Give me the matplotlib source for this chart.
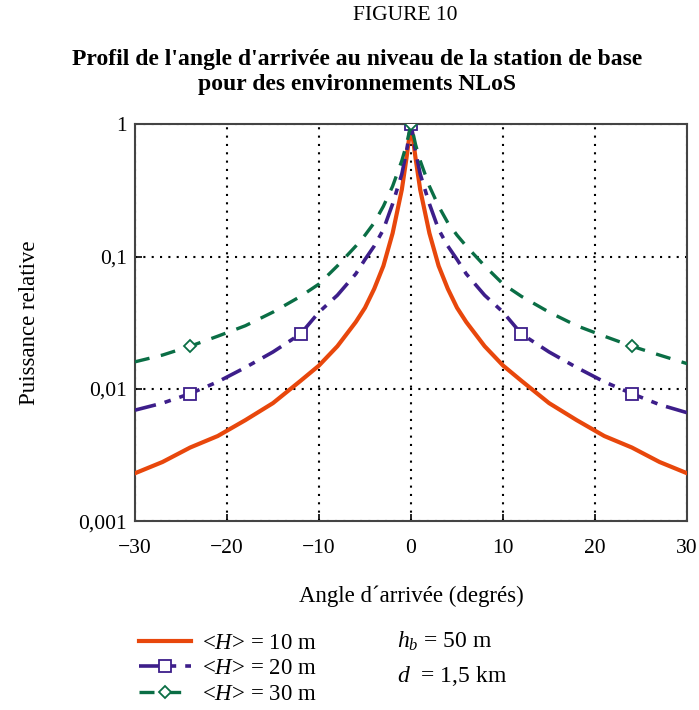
import matplotlib
matplotlib.use('Agg')
import matplotlib.pyplot as plt
from matplotlib.ticker import FixedLocator, NullLocator

plt.rcParams['font.family'] = 'Liberation Serif'
plt.rcParams['mathtext.fontset'] = 'custom'
plt.rcParams['mathtext.rm'] = 'Liberation Serif'
plt.rcParams['mathtext.it'] = 'Liberation Serif:italic'

# angle d'arrivée (degrés)
angles = [-30, -27, -24, -21, -18, -15, -12, -10, -8, -6, -5, -4, -3, -2, -1, -0.5, 0,
          0.5, 1, 2, 3, 4, 5, 6, 8, 10, 12, 15, 18, 21, 24, 27, 30]

# puissance relative
p_h10 = [0.0023, 0.0028, 0.0036, 0.0044, 0.0058, 0.0078, 0.0115, 0.0150, 0.021, 0.032,
         0.041, 0.057, 0.085, 0.15, 0.32, 0.55, 1.0,
         0.55, 0.32, 0.15, 0.085, 0.057, 0.041, 0.032, 0.021, 0.0150, 0.0115, 0.0078,
         0.0058, 0.0044, 0.0036, 0.0028, 0.0023]
p_h20 = [0.0069, 0.0078, 0.0092, 0.0113, 0.0145, 0.019, 0.026, 0.038, 0.051, 0.074,
         0.095, 0.12, 0.16, 0.25, 0.42, 0.62, 1.0,
         0.62, 0.42, 0.25, 0.16, 0.12, 0.095, 0.074, 0.051, 0.038, 0.026, 0.019,
         0.0145, 0.0113, 0.0092, 0.0076, 0.0066]
p_h30 = [0.016, 0.018, 0.021, 0.025, 0.030, 0.038, 0.050, 0.062, 0.085, 0.12,
         0.145, 0.18, 0.24, 0.34, 0.53, 0.70, 1.0,
         0.70, 0.53, 0.34, 0.24, 0.18, 0.145, 0.12, 0.085, 0.062, 0.050, 0.038,
         0.030, 0.025, 0.021, 0.018, 0.0155]

x_ticks = [-30, -20, -10, 0, 10, 20, 30]
x_labels = ['\u221230', '\u221220', '\u221210', '0', '10', '20', '30']
y_ticks = [0.001, 0.01, 0.1, 1]
y_labels = ['0,001', '0,01', '0,1', '1']

c_orange = '#E8470C'
c_purple = '#3D1E8A'
c_green = '#0A6E45'

fig = plt.figure(figsize=(6.99, 7.10), dpi=100)
ax = fig.add_axes([0.193, 0.266, 0.790, 0.559])

ax.plot(angles, p_h10, color=c_orange, lw=3, label=r'<$H$> = 10 m', zorder=3)
ax.plot(angles, p_h20, color=c_purple, lw=2.6, ls=(0, (6, 2.5, 1.8, 2.5)),
        marker='s', markersize=8, markerfacecolor='white', markeredgewidth=1.3,
        markevery=[2, 6, 16, 26, 30], label=r'<$H$> = 20 m', zorder=4)
ax.plot(angles, p_h30, color=c_green, lw=2.4, ls=(0, (4.5, 3.5)),
        marker='D', markersize=6, markerfacecolor='white', markeredgewidth=1.3,
        markevery=[2, 16, 30], label=r'<$H$> = 30 m', zorder=4)

ax.set_yscale('log')
ax.set_xlim(-30, 30)
ax.set_ylim(0.001, 1)
ax.xaxis.set_major_locator(FixedLocator(x_ticks))
ax.set_xticklabels(x_labels)
ax.yaxis.set_major_locator(FixedLocator(y_ticks))
ax.yaxis.set_minor_locator(NullLocator())
ax.set_yticklabels(y_labels)
ax.tick_params(direction='in', length=5, width=1.2, labelsize=15.5)
ax.tick_params(axis='x', pad=13)
ax.tick_params(axis='y', pad=6)
ax.grid(True, ls=(0, (1, 3)), color='black', lw=1.5)
for s in ax.spines.values():
    s.set_color('#444444')
    s.set_linewidth(1.5)

ax.set_xlabel('Angle d\u00b4arriv\u00e9e (degr\u00e9s)', fontsize=16.5, labelpad=20)
ax.set_ylabel('Puissance relative', fontsize=16.5, labelpad=27)

fig.text(0.58, 0.978, 'FIGURE 10', ha='center', va='center', fontsize=15.5)
fig.text(0.511, 0.898, "Profil de l'angle d'arrivée au niveau de la station de base\n"
         "pour des environnements NLoS", ha='center', va='center',
         fontsize=17, fontweight='bold', linespacing=1.25)

ax.legend(loc='upper left', bbox_to_anchor=(0.183, 0.125), bbox_transform=fig.transFigure,
          frameon=False, fontsize=16.5, handlelength=2.25, handletextpad=0.5,
          labelspacing=0.2, numpoints=1, borderpad=0)

fig.text(0.568, 0.097, r'$h_b$ = 50 m', ha='left', va='center', fontsize=17)
fig.text(0.568, 0.048, r'$d$  = 1,5 km', ha='left', va='center', fontsize=17)

fig.savefig('out.png', dpi=100)
